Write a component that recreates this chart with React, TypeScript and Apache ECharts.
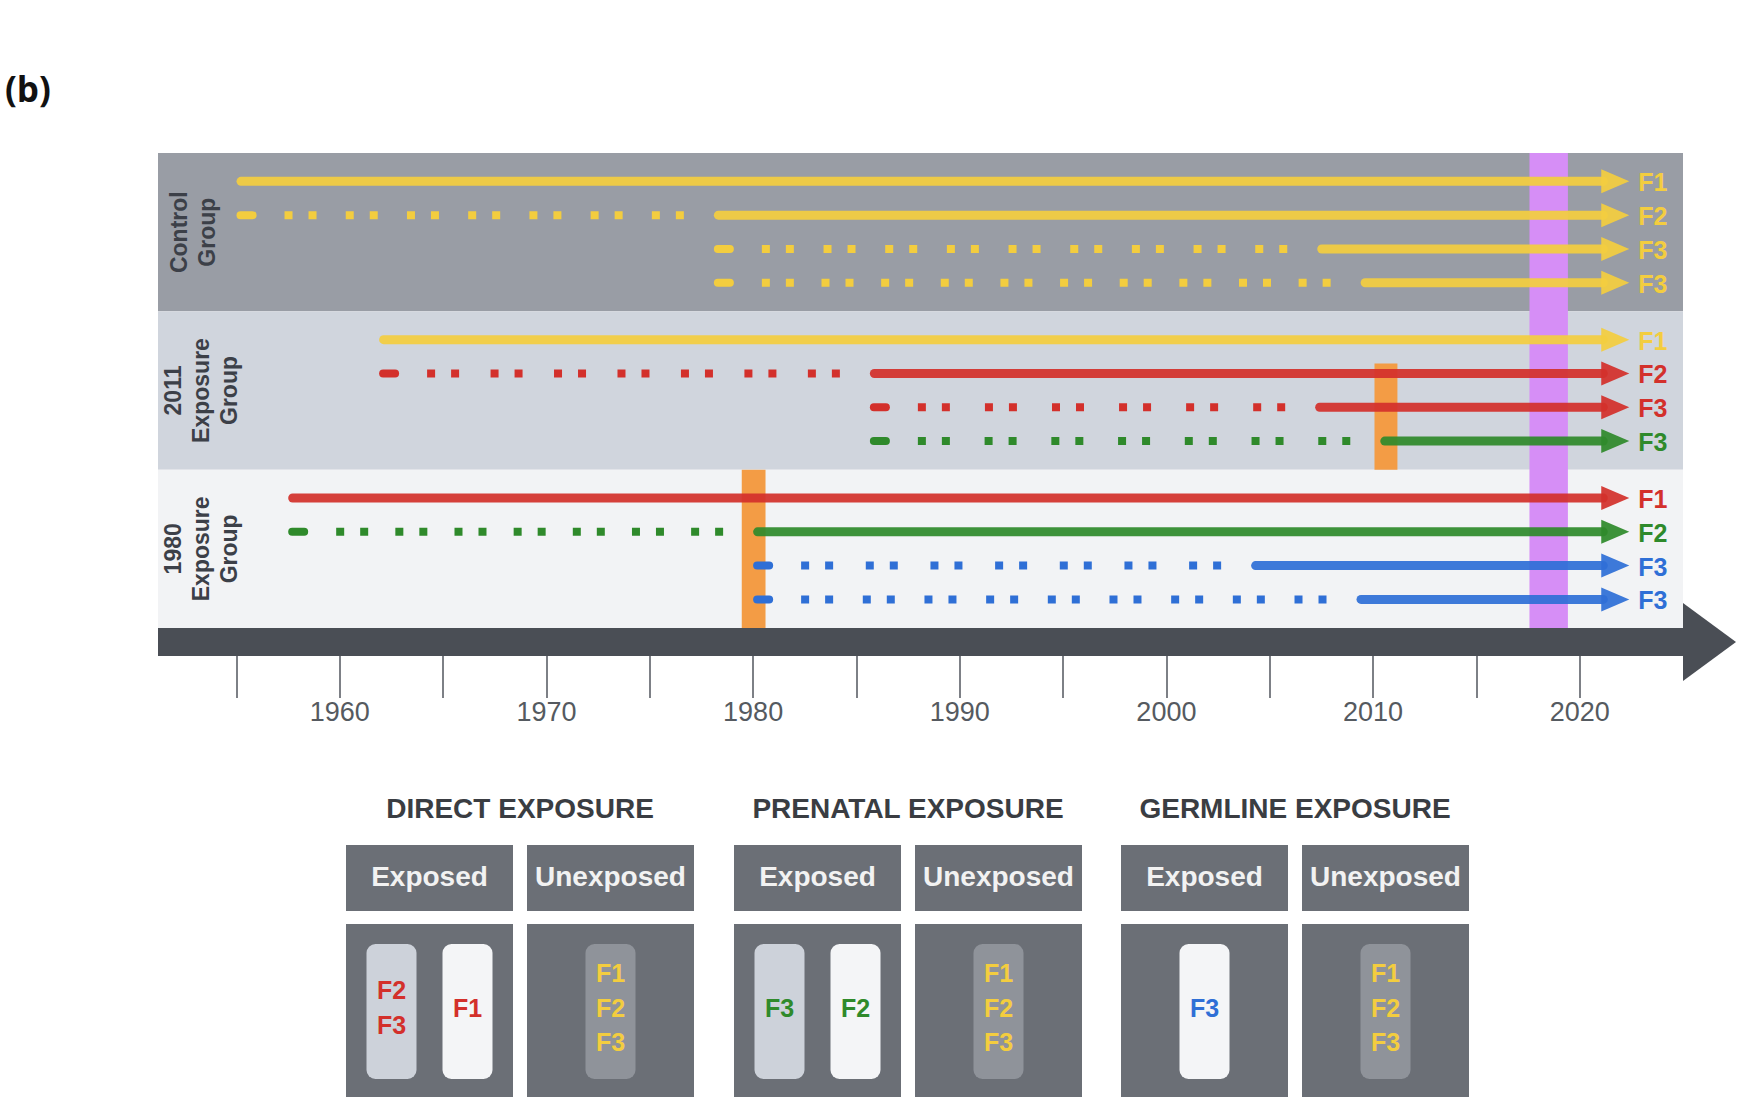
import React, { useEffect, useRef } from "react";
import * as echarts from "echarts";

// ---------------- data ----------------
const groupNames = ["Control\nGroup", "2011\nExposure\nGroup", "1980\nExposure\nGroup"];
const rowGroup = [0, 0, 0, 0, 1, 1, 1, 1, 2, 2, 2, 2];
const rowSlot = [0, 1, 2, 3, 0, 1, 2, 3, 0, 1, 2, 3];
const rowLabels = ["F1", "F2", "F3", "F3", "F1", "F2", "F3", "F3", "F1", "F2", "F3", "F3"];
const rowColorKeys = ["Y", "Y", "Y", "Y", "Y", "R", "R", "G", "R", "G", "B", "B"];
const dottedFrom: (number | null)[] = [null, 1955.0, 1978.1, 1978.1, null, 1961.9, 1985.65, 1985.65, null, 1957.5, 1980.0, 1980.0];
const solidFrom = [1955.0, 1978.1, 2007.3, 2009.4, 1961.9, 1985.65, 2007.2, 2010.35, 1957.5, 1980.0, 2004.1, 2009.2];
const arrowTo = 2022.4;

const exposureYears = [[1979.45, 1980.6], [2010.07, 2011.18]];
const exposureGroups = [2, 1];
const studyYears = [2017.57, 2019.43];

const tickYears = [1955, 1960, 1965, 1970, 1975, 1980, 1985, 1990, 1995, 2000, 2005, 2010, 2015, 2020];
const labelYears = [1960, 1970, 1980, 1990, 2000, 2010, 2020];

const legendTitles = ["DIRECT EXPOSURE", "PRENATAL EXPOSURE", "GERMLINE EXPOSURE"];
const legendHeaders = ["Exposed", "Unexposed"];
const exposedPills = [
  [{ shade: "light", text: "F2\nF3", color: "R" }, { shade: "white", text: "F1", color: "R" }],
  [{ shade: "light", text: "F3", color: "G" }, { shade: "white", text: "F2", color: "G" }],
  [{ shade: "white", text: "F3", color: "B" }],
];
const unexposedPills = [
  [{ shade: "gray", text: "F1\nF2\nF3", color: "Y" }],
  [{ shade: "gray", text: "F1\nF2\nF3", color: "Y" }],
  [{ shade: "gray", text: "F1\nF2\nF3", color: "Y" }],
];

// ---------------- styles / layout ----------------
const FONT = "Liberation Sans, Arial, Helvetica, sans-serif";
const COLORS: Record<string, string> = { Y: "#f3cd3f", R: "#d3302b", G: "#2f8a2b", B: "#2f6fd6" };
const BAND_COLORS = ["#999da5", "#d0d5dd", "#f2f3f5"];
const PILL_COLORS: Record<string, string> = { light: "#cdd2da", white: "#f4f5f7", gray: "#8f939a" };
const BOX_COLOR = "#6b6f76";
const X_MIN = 1951.2;
const X_MAX = 2025.0;
const ROW_OFFSET = 0.179;
const ROW_STEP = 0.2135;
const EXPOSURE_TOP = [0, 0.33];
const GROUP_LABEL_DX = [35, 43, 43];
const HEAD_LEN = 28;
const HEAD_HALF = 12;
const SQ = 8;
const SQ_GAP = 16;
const PAIR = 2 * SQ + SQ_GAP;
const NOMINAL_PERIOD = 62.8;
const LEAD_GAP = 48;
const TAIL_GAP = 30;
const GRID = { left: 158, right: 59, top: 153, height: 475 };

function rowY(i: number) {
  return rowGroup[i] + ROW_OFFSET + rowSlot[i] * ROW_STEP;
}

function renderBand(params: any, api: any) {
  const g = params.dataIndex;
  const cs = params.coordSys;
  const top = api.coord([X_MIN, api.value(1)])[1];
  const bottom = api.coord([X_MIN, api.value(1) + 1])[1];
  return {
    type: "group",
    children: [
      { type: "rect", shape: { x: cs.x, y: top, width: cs.width, height: bottom - top }, style: { fill: BAND_COLORS[g] } },
      {
        type: "text",
        x: cs.x + GROUP_LABEL_DX[g],
        y: (top + bottom) / 2,
        rotation: Math.PI / 2,
        style: {
          text: groupNames[g],
          fill: "#3c4048",
          fontSize: 23,
          fontWeight: "bold",
          fontFamily: FONT,
          lineHeight: 28,
          textAlign: "center",
          textVerticalAlign: "middle",
        },
      },
    ],
  };
}

function renderMarker(params: any, api: any) {
  const p0 = api.coord([api.value(0), api.value(2)]);
  const p1 = api.coord([api.value(1), api.value(3)]);
  const color = params.dataIndex < exposureYears.length ? "#f39c45" : "#d68ef6";
  return {
    type: "rect",
    shape: { x: p0[0], y: p0[1], width: p1[0] - p0[0], height: p1[1] - p0[1] },
    style: { fill: color },
  };
}

function renderRow(params: any, api: any) {
  const i = params.dataIndex;
  const yv = api.value(2);
  const pSolid = api.coord([api.value(0), yv]);
  const pEnd = api.coord([api.value(1), yv]);
  const y = pSolid[1];
  const color = COLORS[rowColorKeys[i]];
  const children: any[] = [];
  const d = dottedFrom[i];
  if (d != null) {
    const p0 = api.coord([d, yv]);
    children.push({
      type: "line",
      shape: { x1: p0[0] + 4, y1: y, x2: p0[0] + 16, y2: y },
      style: { stroke: color, lineWidth: 8, lineCap: "round" },
    });
    // fit an integer number of square pairs between the lead dash and the solid part
    const start = p0[0] + LEAD_GAP;
    const L = pSolid[0] - TAIL_GAP - start - PAIR;
    if (L > 0) {
      const m1 = Math.max(1, Math.floor(L / NOMINAL_PERIOD));
      const m2 = Math.max(1, Math.ceil(L / NOMINAL_PERIOD));
      const P1 = L / m1;
      const P2 = L / m2;
      const m = Math.abs(P1 - NOMINAL_PERIOD) <= Math.abs(P2 - NOMINAL_PERIOD) ? m1 : m2;
      const P = L / m;
      children.push({
        type: "line",
        shape: { x1: start, y1: y, x2: start + m * P + PAIR, y2: y },
        style: { stroke: color, lineWidth: 8, lineDash: [SQ, SQ_GAP, SQ, P - PAIR], lineCap: "butt" },
      });
    }
  }
  const headX = pEnd[0] - HEAD_LEN;
  children.push({
    type: "line",
    shape: { x1: pSolid[0] + 4.5, y1: y, x2: headX + 2, y2: y },
    style: { stroke: color, lineWidth: 9, lineCap: "round", opacity: 0.93 },
  });
  children.push({
    type: "polygon",
    shape: { points: [[headX, y - HEAD_HALF], [pEnd[0], y], [headX, y + HEAD_HALF]] },
    style: { fill: color, opacity: 0.93 },
  });
  children.push({
    type: "text",
    x: pEnd[0] + 9,
    y: y + 1,
    style: {
      text: rowLabels[i],
      fill: color,
      fontSize: 25,
      fontWeight: "bold",
      fontFamily: FONT,
      textAlign: "left",
      textVerticalAlign: "middle",
    },
  });
  return { type: "group", children };
}

function buildLegend() {
  const els: any[] = [];
  const groupLeft = [346, 734, 1121];
  const boxW = 167;
  const boxGap = 181;
  const headTop = 845;
  const headH = 66;
  const bodyTop = 924;
  const bodyH = 173;
  const pillW = 50;
  const pillH = 135;
  const pillTop = 944;
  legendTitles.forEach((title, g) => {
    const left = groupLeft[g];
    els.push({
      type: "text",
      x: left + (boxW * 2 + 14) / 2,
      y: 808,
      style: { text: title, fill: "#3a3d42", fontSize: 28, fontWeight: "bold", fontFamily: FONT, textAlign: "center", textVerticalAlign: "middle" },
    });
    [0, 1].forEach((k) => {
      const bx = left + k * boxGap;
      els.push({ type: "rect", shape: { x: bx, y: headTop, width: boxW, height: headH }, style: { fill: BOX_COLOR } });
      els.push({
        type: "text",
        x: bx + boxW / 2,
        y: headTop + headH / 2 - 2,
        style: { text: legendHeaders[k], fill: "#f2f2f2", fontSize: 28, fontWeight: "bold", fontFamily: FONT, textAlign: "center", textVerticalAlign: "middle" },
      });
      els.push({ type: "rect", shape: { x: bx, y: bodyTop, width: boxW, height: bodyH }, style: { fill: BOX_COLOR } });
      const pills = k === 0 ? exposedPills[g] : unexposedPills[g];
      const cx = bx + boxW / 2;
      pills.forEach((p, j) => {
        const pcx = pills.length === 1 ? cx : cx + (j === 0 ? -38 : 38);
        els.push({
          type: "rect",
          shape: { x: pcx - pillW / 2, y: pillTop, width: pillW, height: pillH, r: 9 },
          style: { fill: PILL_COLORS[p.shade] },
        });
        els.push({
          type: "text",
          x: pcx,
          y: pillTop + pillH / 2 - 4,
          style: {
            text: p.text,
            fill: COLORS[p.color],
            fontSize: 25,
            fontWeight: "bold",
            fontFamily: FONT,
            lineHeight: 34.5,
            textAlign: "center",
            textVerticalAlign: "middle",
          },
        });
      });
    });
  });
  els.push({
    type: "text",
    x: 5,
    y: 88,
    style: { text: "(b)", fill: "#111111", fontSize: 35, fontWeight: "bold", fontFamily: "Open Sans, DejaVu Sans, sans-serif", textAlign: "left", textVerticalAlign: "middle" },
  });
  return els;
}

export default function App() {
  const ref = useRef<HTMLDivElement>(null);
  useEffect(() => {
    if (!ref.current) return;
    const chart = echarts.init(ref.current, null, { renderer: "svg" });
    const bandData = groupNames.map((_, g) => [X_MIN, g]);
    const markerData = [
      ...exposureYears.map((yr, k) => [yr[0], yr[1], exposureGroups[k] + EXPOSURE_TOP[k], exposureGroups[k] + 1]),
      [studyYears[0], studyYears[1], 0, groupNames.length],
    ];
    const rowData = rowLabels.map((_, i) => [solidFrom[i], arrowTo, rowY(i)]);
    chart.setOption({
      animation: false,
      backgroundColor: "#ffffff",
      grid: [
        { ...GRID, outerBoundsMode: "none", containLabel: false },
        { ...GRID, outerBoundsMode: "none", containLabel: false },
      ],
      xAxis: [
        {
          type: "value",
          gridIndex: 0,
          min: X_MIN,
          max: X_MAX,
          position: "bottom",
          offset: 28,
          axisLine: { show: false, onZero: false },
          axisTick: { show: true, length: 42, customValues: tickYears, lineStyle: { color: "#7d8086", width: 2 } },
          axisLabel: {
            show: true,
            customValues: labelYears,
            margin: 42,
            color: "#555a60",
            fontSize: 27,
            fontFamily: FONT,
            formatter: (v: number) => String(v),
          },
          splitLine: { show: false },
        },
        {
          type: "value",
          gridIndex: 1,
          min: X_MIN,
          max: X_MAX,
          position: "bottom",
          offset: 14,
          axisLine: {
            show: true,
            onZero: false,
            lineStyle: { color: "#4a4e55", width: 28, cap: "butt" },
            symbol: ["none", "triangle"],
            symbolSize: [78, 53],
            symbolOffset: [0, 26.5],
          },
          axisTick: { show: false },
          axisLabel: { show: false },
          splitLine: { show: false },
        },
      ],
      yAxis: [
        { type: "value", gridIndex: 0, min: 0, max: groupNames.length, inverse: true, show: false },
        { type: "value", gridIndex: 1, min: 0, max: 1, show: false },
      ],
      graphic: { elements: buildLegend() },
      series: [
        { type: "custom", z: 1, silent: true, renderItem: renderBand, data: bandData, encode: { x: 0, y: 1 } },
        { type: "custom", z: 2, silent: true, renderItem: renderMarker, data: markerData, encode: { x: [0, 1], y: [2, 3] } },
        { type: "custom", z: 3, silent: true, renderItem: renderRow, data: rowData, encode: { x: [0, 1], y: 2 }, clip: false },
      ],
    });
    return () => chart.dispose();
  }, []);
  return (
    <div
      ref={ref}
      style={{ position: "absolute", left: 0, top: 0, width: 1742, height: 1120, background: "#ffffff" }}
    />
  );
}
